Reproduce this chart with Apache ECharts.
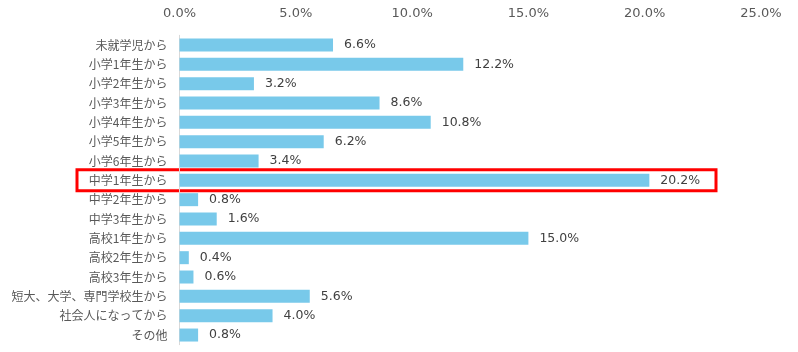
<!DOCTYPE html>
<html><head><meta charset="utf-8">
<script src="https://cdn.jsdelivr.net/npm/echarts@6/dist/echarts.min.js"></script>
<style>html,body{margin:0;padding:0;background:#fff}#c{width:798px;height:352px}</style>
</head><body><div id="c"></div>
<script>
const categories = ['未就学児から','小学1年生から','小学2年生から','小学3年生から','小学4年生から','小学5年生から','小学6年生から','中学1年生から','中学2年生から','中学3年生から','高校1年生から','高校2年生から','高校3年生から','短大、大学、専門学校生から','社会人になってから','その他'];
const values = [6.6, 12.2, 3.2, 8.6, 10.8, 6.2, 3.4, 20.2, 0.8, 1.6, 15.0, 0.4, 0.6, 5.6, 4.0, 0.8];
const highlighted = '中学1年生から';
const FONT = '"Noto Sans CJK JP", "Noto Sans", sans-serif';
const NUMFONT = '"DejaVu Sans", "Noto Sans CJK JP", sans-serif';

const chart = echarts.init(document.getElementById('c'), null, {renderer:'canvas'});
chart.setOption({
  animation:false,
  grid:{left:179.5, right:37, top:35.3, bottom:7.3, containLabel:false},
  xAxis:{type:'value', position:'top', min:0, max:25, interval:5,
    axisLine:{show:false}, axisTick:{show:false}, splitLine:{show:false},
    axisLabel:{formatter:v=>v.toFixed(1)+'%', color:'#595959', fontSize:13, fontFamily:NUMFONT, margin:15}},
  yAxis:{type:'category', data:categories, inverse:true,
    axisLine:{show:true, lineStyle:{color:'#d9d9d9', width:1}}, axisTick:{show:false},
    axisLabel:{color:'#595959', fontSize:12, fontFamily:FONT, margin:12}},
  series:[{type:'bar', data:values, barWidth:13, itemStyle:{color:'#78c9ea'},
    label:{show:true, position:'right', distance:11, color:'#404040', fontSize:12.5, fontFamily:NUMFONT,
      formatter:p=>p.value.toFixed(1)+'%'}}]
});
const cy = chart.convertToPixel({yAxisIndex:0}, highlighted);
chart.setOption({graphic:[{type:'rect', shape:{x:77, y:cy-10.5, width:639, height:21},
  style:{fill:'none', stroke:'#ff0000', lineWidth:3}}]});
</script></body></html>
